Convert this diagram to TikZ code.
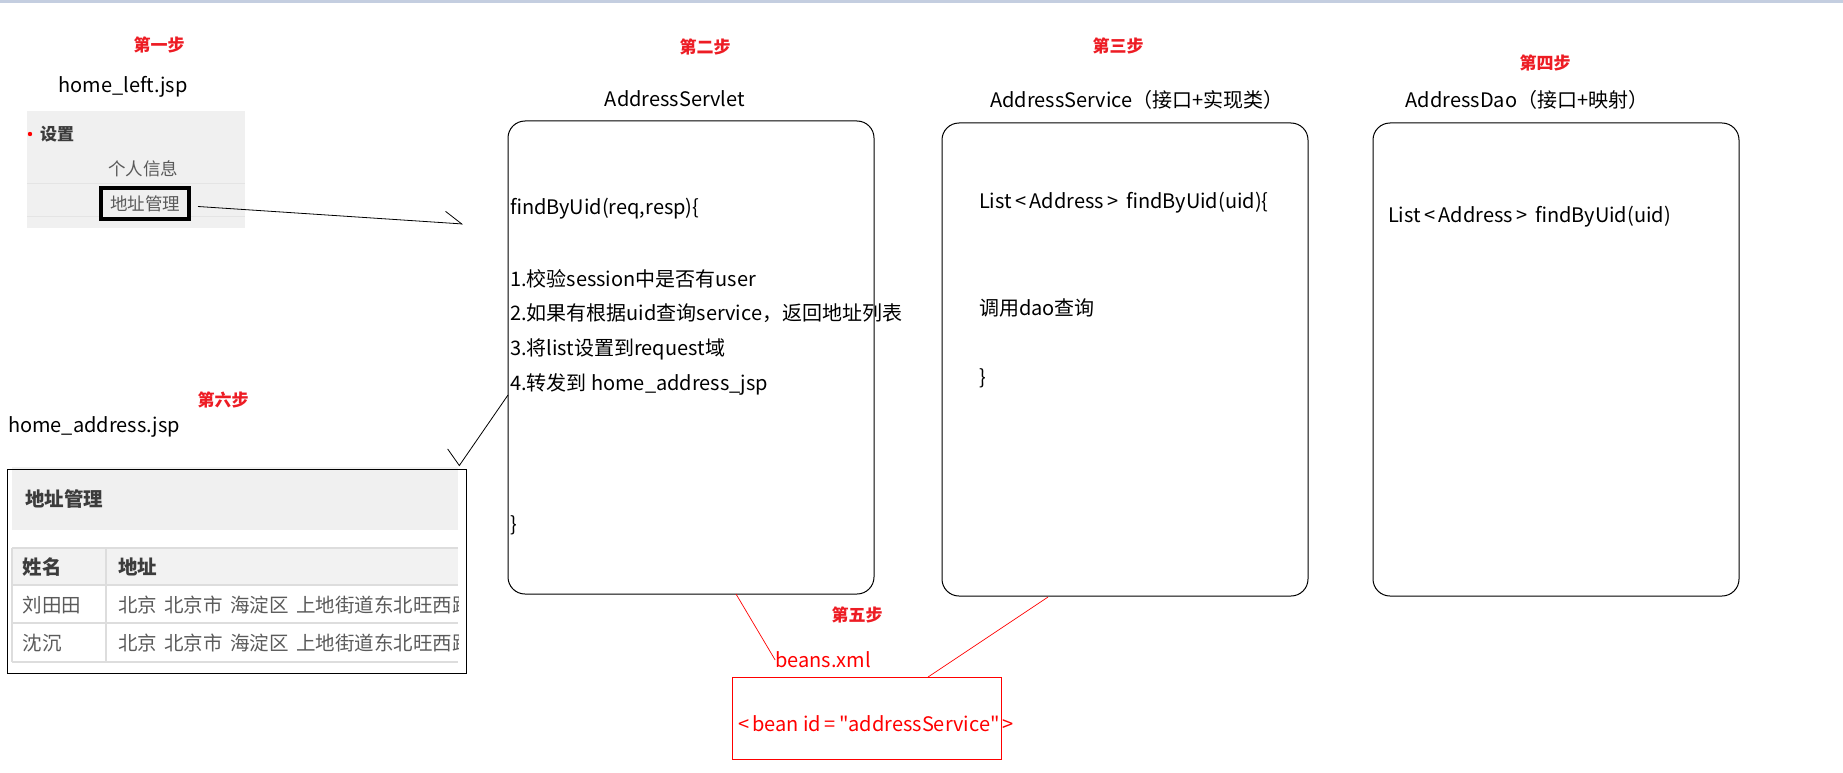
\documentclass[tikz,border=0pt]{standalone}
\usepackage{fontspec}
\setmainfont{Noto Sans CJK SC}
\newfontfamily\rawfont{Noto Sans CJK SC}
\usetikzlibrary{arrows.meta}
\definecolor{stepred}{RGB}{237,28,36}
\definecolor{linered}{RGB}{255,0,0}
\definecolor{topband}{RGB}{196,206,224}
\definecolor{panelgray}{RGB}{240,240,240}
\definecolor{sepgray}{RGB}{228,228,228}
\definecolor{thgray}{RGB}{242,242,242}
\definecolor{rowline}{RGB}{221,221,221}
\definecolor{txtgray}{RGB}{90,90,90}
\definecolor{txtdark}{RGB}{60,60,60}
\tikzset{
  steplbl/.style={text=stepred,font=\fontsize{17}{20}\selectfont\bfseries},
  ttl/.style={font=\fontsize{20}{24}\selectfont},
  codeline/.style={anchor=west,font=\fontsize{20}{24}\selectfont},
  roundbox/.style={draw,line width=1pt,rounded corners=17pt,anchor=north west,
    minimum width=366pt,minimum height=473pt},
  redtxt/.style={text=linered,font=\fontsize{20}{24}\selectfont},
  redline/.style={draw=linered,line width=0.7pt},
  blackarrow/.style={line width=0.8pt},
  tcell/.style={anchor=west,font=\fontsize{19.5}{22}\selectfont,text=txtgray},
  thcell/.style={anchor=west,font=\fontsize{19.5}{22}\selectfont\bfseries,text=txtdark},
}
\begin{document}
\begin{tikzpicture}[x=1pt,y=-1pt,every node/.style={inner sep=0pt,outer sep=0pt}]
\useasboundingbox (0,0) rectangle (1843,773);
\fill[topband] (0,0) rectangle (1843,3);

% ---- step labels
\node[steplbl] (s1) at (159,45) {第一步};
\node[steplbl] (s2) at (705,47) {第二步};
\node[steplbl] (s3) at (1118,46) {第三步};
\node[steplbl] (s4) at (1545,63) {第四步};
\node[steplbl] (s5) at (857,615) {第五步};
\node[steplbl] (s6) at (223,400) {第六步};

% ---- home_left.jsp
\node[ttl] (hl) at (123,87) {home\_left.jsp};
\fill[panelgray] (27,111) rectangle (245,228);
\draw[sepgray,line width=1pt] (27,183) -- (245,183);
\draw[sepgray,line width=1pt] (27,216) -- (245,216);
\fill[linered] (30,134) circle (2.2pt);
\node[font=\fontsize{17}{20}\selectfont\bfseries,text=txtdark] (set) at (57,134) {设置};
\node[font=\fontsize{17.5}{20}\selectfont,text=txtgray] (info) at (143,169) {个人信息};
\node[draw,line width=4pt,fill=panelgray,minimum width=88pt,minimum height=31pt,
      font=\fontsize{17.5}{20}\selectfont,text=txtgray] (menu) at (145,203.5) {地址管理};

% ---- AddressServlet
\node[ttl] (t2) at (675,99) {AddressServlet};
\node[roundbox] (servlet) at (508,121) {};
\node[codeline] (c1) at (510,209) {findByUid(req,resp)\{};
\node[codeline] (c2) at (510,279) {1.校验session中是否有user};
\node[codeline] (c3) at (510,313) {2.如果有根据uid查询service，返回地址列表};
\node[codeline] (c4) at (510,349) {3.将list设置到request域};
\node[codeline] (c5) at (510,384) {4.转发到 home\_address\_jsp};
\node[codeline] (c6) at (510,525) {\}};

% ---- AddressService
\node[ttl] (t3) at (1137,100) {AddressService（接口+实现类）};
\node[roundbox] (service) at (942,123) {};
\node[codeline] (d1) at (979,203) {List\,<\,Address\,>\, findByUid(uid)\{};
\node[codeline] (d2) at (979,308) {调用dao查询};
\node[codeline] (d3) at (979,378) {\}};

% ---- AddressDao
\node[ttl] (t4) at (1527,100) {AddressDao（接口+映射）};
\node[roundbox] (dao) at (1373,123) {};
\node[codeline] (e1) at (1388,217) {List\,<\,Address\,>\, findByUid(uid)};

% ---- home_address.jsp
\node[ttl] (ha) at (94,427) {home\_address.jsp};
\fill[panelgray] (12,467) rectangle (458,530);
\node[draw,line width=1pt,anchor=north west,minimum width=459pt,minimum height=204pt] (tbl) at (7,469) {};
\node[thcell] (th0) at (25,499) {地址管理};
\fill[thgray] (12,548) rectangle (458,585);
\draw[rowline,line width=1.5pt] (12,548) -- (458,548);
\draw[rowline,line width=1.5pt] (12,585) -- (458,585);
\draw[rowline,line width=1.5pt] (12,623) -- (458,623);
\draw[rowline,line width=1.5pt] (12,662) -- (458,662);
\draw[rowline,line width=1.5pt] (12,548) -- (12,662);
\draw[rowline,line width=1.5pt] (106,548) -- (106,662);
\node[thcell] (th1) at (23,567) {姓名};
\node[thcell] (th2) at (118,567) {地址};
\node[tcell] (r1n) at (23,605) {刘田田};
\node[tcell] (r2n) at (23,643) {沈沉};
\begin{scope}
\clip (110,590) rectangle (458,660);
\node[tcell] (r1a) at (118,605) {北京\hspace{7.5pt}北京市\hspace{7.5pt}海淀区\hspace{7.5pt}上地街道东北旺西路};
\node[tcell] (r2a) at (118,643) {北京\hspace{7.5pt}北京市\hspace{7.5pt}海淀区\hspace{7.5pt}上地街道东北旺西路};
\end{scope}

% ---- beans.xml
\node[redtxt] (beans) at (823,660) {beans.xml};
\node[draw=linered,line width=1pt,anchor=north west,minimum width=269pt,minimum height=82pt] (bean) at (732,677) {};
\node[redtxt,anchor=west,font=\rawfont\fontsize{20}{24}\selectfont] (beantxt) at (738,724) {<\,bean id\,=\,"addressService"\,>};

% ---- connectors
\coordinate (a1end) at (463,224);
\draw[blackarrow,-{Straight Barb[left,length=17pt,width=23pt,line width=0.8pt]}]
  (menu.east) ++(9,3) -- (a1end);
\coordinate (a2start) at (508,395);
\coordinate (a2end) at (459,466);
\draw[blackarrow,-{Straight Barb[right,length=7pt,width=38pt,line width=0.8pt]}]
  (a2start) -- (a2end);
\coordinate (r1start) at (736,594);
\draw[redline] (r1start) -- (beans.west);
\coordinate (r2start) at (1048,597);
\coordinate (r2end) at (928,677);
\draw[redline] (r2start) -- (r2end);
\end{tikzpicture}
\end{document}
